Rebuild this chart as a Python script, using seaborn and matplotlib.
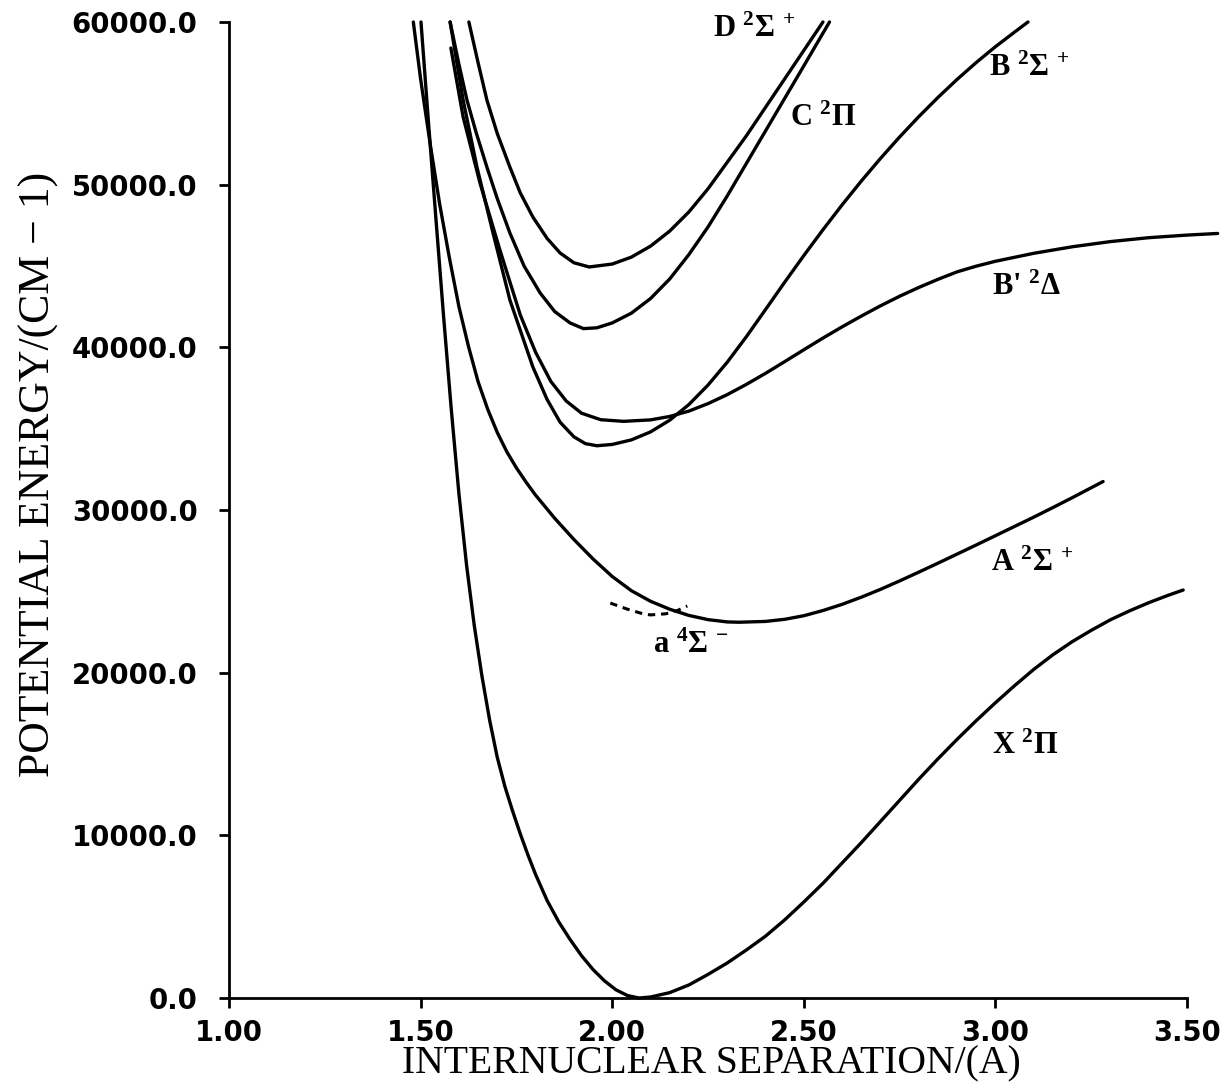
import matplotlib
matplotlib.use("Agg")
import matplotlib.pyplot as plt
import pandas as pd
import seaborn as sns
from matplotlib.ticker import FormatStrFormatter, MultipleLocator

# Potential energy curves: internuclear separation (A) vs energy (cm-1)
x2pi_r = [1.501, 1.52, 1.54, 1.56, 1.58, 1.60, 1.62, 1.64, 1.66, 1.68, 1.70, 1.72, 1.74,
          1.76, 1.78, 1.80, 1.83, 1.86, 1.89, 1.92, 1.95, 1.98, 2.01, 2.04, 2.07, 2.10,
          2.15, 2.20, 2.25, 2.30, 2.35, 2.40, 2.45, 2.50, 2.55, 2.60, 2.65, 2.70, 2.75,
          2.80, 2.85, 2.90, 2.95, 3.00, 3.05, 3.10, 3.15, 3.20, 3.25, 3.30, 3.35, 3.40,
          3.45, 3.49]
x2pi_e = [60000, 54000, 47900, 41900, 36200, 31000, 26600, 22900, 19800, 17100, 14800,
          13000, 11500, 10100, 8800, 7600, 6000, 4700, 3600, 2600, 1750, 1050, 500, 150,
          0, 60, 330, 800, 1450, 2150, 2950, 3800, 4800, 5900, 7050, 8300, 9550, 10850,
          12150, 13450, 14700, 15900, 17050, 18150, 19200, 20200, 21100, 21900, 22600,
          23250, 23800, 24300, 24750, 25080]

a2sig_r = [1.481, 1.50, 1.525, 1.55, 1.575, 1.60, 1.625, 1.65, 1.675, 1.70, 1.725, 1.75,
           1.775, 1.80, 1.85, 1.90, 1.95, 2.00, 2.05, 2.10, 2.15, 2.20, 2.25, 2.30, 2.33,
           2.40, 2.45, 2.50, 2.55, 2.60, 2.65, 2.70, 2.75, 2.80, 2.85, 2.90, 2.95, 3.00,
           3.05, 3.10, 3.15, 3.20, 3.281]
a2sig_e = [60000, 56500, 52500, 48770, 45520, 42500, 40050, 37890, 36200, 34770, 33580,
           32590, 31720, 30915, 29490, 28190, 26990, 25915, 25040, 24390, 23900, 23520,
           23260, 23120, 23100, 23150, 23280, 23500, 23820, 24200, 24640, 25120, 25640,
           26180, 26730, 27290, 27850, 28420, 28990, 29560, 30150, 30750, 31750]

a4sig_r = [1.995, 2.04, 2.08, 2.10, 2.14, 2.17, 2.196]
a4sig_e = [24280, 23900, 23620, 23550, 23620, 23820, 24100]

b2sig_r = [1.577, 1.611, 1.647, 1.689, 1.733, 1.793, 1.83, 1.864, 1.90, 1.93, 1.96, 2.00,
           2.05, 2.10, 2.15, 2.20, 2.25, 2.30, 2.35, 2.40, 2.45, 2.50, 2.55, 2.60, 2.65,
           2.70, 2.75, 2.80, 2.85, 2.90, 2.95, 3.00, 3.05, 3.085]
b2sig_e = [60000, 55200, 51080, 47030, 42910, 38790, 36800, 35400, 34500, 34080, 33950,
           34030, 34310, 34800, 35520, 36480, 37680, 39080, 40650, 42320, 44000, 45640,
           47230, 48760, 50220, 51610, 52930, 54180, 55360, 56470, 57510, 58480, 59380,
           60000]

bp2del_r = [1.579, 1.611, 1.655, 1.707, 1.76, 1.80, 1.84, 1.88, 1.92, 1.97, 2.03, 2.10,
            2.15, 2.20, 2.25, 2.30, 2.35, 2.40, 2.45, 2.50, 2.55, 2.60, 2.65, 2.70, 2.75,
            2.80, 2.85, 2.90, 2.95, 3.00, 3.10, 3.20, 3.30, 3.40, 3.50, 3.58]
bp2del_e = [58400, 54160, 50100, 45980, 42000, 39700, 37900, 36700, 35950, 35550, 35450,
            35540, 35750, 36080, 36540, 37090, 37720, 38400, 39120, 39850, 40570, 41260,
            41920, 42550, 43140, 43680, 44180, 44640, 44990, 45290, 45780, 46180, 46500,
            46740, 46900, 47000]

c2pi_r = [1.577, 1.60, 1.621, 1.645, 1.673, 1.70, 1.733, 1.77, 1.812, 1.85, 1.89, 1.925,
          1.96, 2.00, 2.05, 2.10, 2.15, 2.20, 2.25, 2.30, 2.35, 2.40, 2.45, 2.50, 2.567]
c2pi_e = [60000, 57400, 55200, 53200, 51080, 49150, 47030, 45000, 43340, 42200, 41500,
          41150, 41200, 41500, 42100, 43000, 44200, 45700, 47400, 49300, 51300, 53300,
          55300, 57300, 60000]

d2sig_r = [1.626, 1.65, 1.673, 1.70, 1.733, 1.76, 1.793, 1.83, 1.864, 1.90, 1.94, 2.00,
           2.05, 2.10, 2.15, 2.20, 2.25, 2.35, 2.45, 2.55]
d2sig_e = [60000, 57500, 55200, 53150, 51080, 49500, 48010, 46700, 45800, 45200, 44940,
           45120, 45545, 46220, 47145, 48320, 49745, 53000, 56500, 60000]

states = ["X2Pi", "A2Sigma+", "B2Sigma+", "B'2Delta", "C2Pi", "D2Sigma+"]
solid_r = [x2pi_r, a2sig_r, b2sig_r, bp2del_r, c2pi_r, d2sig_r]
solid_e = [x2pi_e, a2sig_e, b2sig_e, bp2del_e, c2pi_e, d2sig_e]

# State labels: text and anchor position (r, E)
label_text = ["D $^{2}$\u03a3 $^{+}$",
              "C $^{2}$\u03a0",
              "B $^{2}$\u03a3 $^{+}$",
              "B' $^{2}$\u0394",
              "A $^{2}$\u03a3 $^{+}$",
              "a $^{4}$\u03a3 $^{-}$",
              "X $^{2}$\u03a0"]
label_r = [2.262, 2.465, 2.983, 2.99, 2.988, 2.106, 2.99]
label_e = [59570, 54100, 57170, 43710, 26740, 21700, 15490]

sns.set_theme(style="ticks")
plt.rcParams["font.family"] = ["DejaVu Sans", "DejaVu Serif"]
plt.rcParams["mathtext.fontset"] = "custom"
plt.rcParams["mathtext.rm"] = "Liberation Serif:bold"
plt.rcParams["mathtext.bf"] = "Liberation Serif:bold"
plt.rcParams["mathtext.it"] = "Liberation Serif:bold"
plt.rcParams["mathtext.sf"] = "Liberation Serif:bold"

fig = plt.figure(figsize=(12.27, 10.91), dpi=100)
ax = fig.add_axes([229 / 1227, 93 / 1091, 958 / 1227, 976 / 1091])

frames = [pd.DataFrame({"r": r, "E": e, "state": s})
          for s, r, e in zip(states, solid_r, solid_e)]
df = pd.concat(frames, ignore_index=True)
sns.lineplot(data=df, x="r", y="E", units="state", estimator=None, sort=False,
             color="black", lw=2.4, ax=ax, legend=False)

dash_df = pd.DataFrame({"r": a4sig_r, "E": a4sig_e})
sns.lineplot(data=dash_df, x="r", y="E", estimator=None, sort=False,
             color="black", lw=2.2, ax=ax, legend=False)
ax.lines[-1].set_dashes([2.4, 1.9])

for ln in ax.lines:
    ln.set_clip_on(False)
    ln.set_solid_capstyle("round")
    ln.set_solid_joinstyle("round")

ax.set_xlim(1.0, 3.5)
ax.set_ylim(0, 60000)
ax.xaxis.set_major_locator(MultipleLocator(0.5))
ax.yaxis.set_major_locator(MultipleLocator(10000))
ax.xaxis.set_major_formatter(FormatStrFormatter("%.2f"))
ax.yaxis.set_major_formatter(FormatStrFormatter("%.1f"))

sns.despine(ax=ax)
for sp in ("left", "bottom"):
    ax.spines[sp].set_linewidth(2.0)
    ax.spines[sp].set_color("black")
ax.tick_params(axis="both", direction="out", length=7.2, width=2.0, color="black",
               labelsize=19.8, labelcolor="black")
ax.tick_params(axis="y", pad=15.5)
ax.tick_params(axis="x", pad=8)
for t in ax.get_xticklabels() + ax.get_yticklabels():
    t.set_fontweight("bold")
    t.set_family("DejaVu Sans")

ax.set_xlabel("INTERNUCLEAR SEPARATION/(A)", family="Liberation Serif", fontsize=28.5,
              color="black", va="center")
ax.xaxis.set_label_coords(0.504, -0.0676)
ax.set_ylabel("POTENTIAL ENERGY/(CM \u2212 1)", family=["Liberation Serif", "DejaVu Serif"],
              fontsize=31.5, color="black", va="center")
ax.yaxis.set_label_coords(-0.199, 0.536)

for txt, r, e in zip(label_text, label_r, label_e):
    ax.text(r, e, txt, fontsize=22, ha="left", va="center", color="black",
            family=["Liberation Serif", "DejaVu Serif"], fontweight="bold")

ax.set_facecolor("white")
fig.patch.set_facecolor("white")
fig.savefig("out.png", dpi=100, facecolor="white")
